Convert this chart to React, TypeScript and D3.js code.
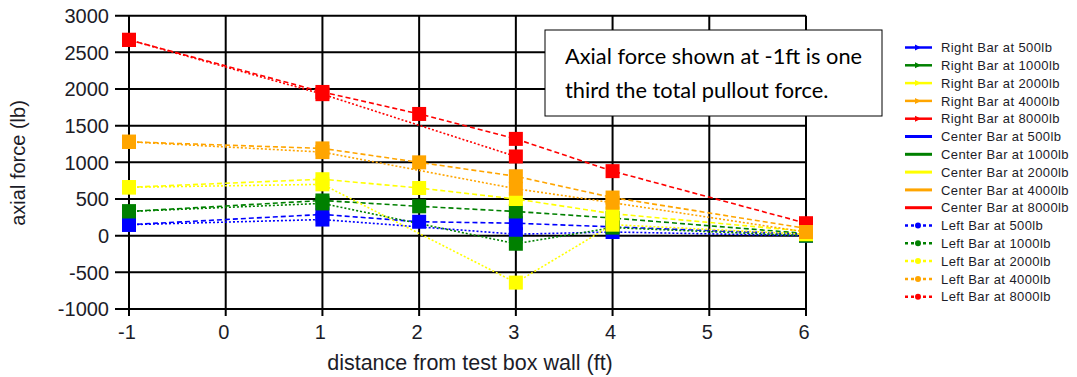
import React from "react";
import * as d3 from "d3";

const xTicks = [-1, 0, 1, 2, 3, 4, 5, 6];
const yTicks = [-1000, -500, 0, 500, 1000, 1500, 2000, 2500, 3000];
const loads = ["500lb", "1000lb", "2000lb", "4000lb", "8000lb"];
const colors = ["#0000ff", "#008000", "#ffff00", "#ffa500", "#ff0000"];

// Right Bar (dashed)
const rightX = [-1, 1, 2, 3, 4, 6];
const right500 = [150, 290, 190, 170, 120, 20];
const right1000 = [330, 480, 400, 330, 240, 30];
const right2000 = [660, 770, 650, 500, 300, 60];
const right4000 = [1280, 1190, 1000, 810, 520, 100];
const right8000 = [2670, 1960, 1660, 1320, 880, 170];

// Center Bar (solid)
const centerX = [-1];
const center500 = [150];
const center1000 = [330];
const center2000 = [660];
const center4000 = [1280];
const center8000 = [2670];

// Left Bar (dotted)
const leftX = [-1, 1, 3, 4, 6];
const leftX8000 = [-1, 1, 3];
const left500 = [150, 220, 20, 50, 0];
const left1000 = [330, 440, -110, 110, 0];
const left2000 = [660, 700, -640, 150, 20];
const left4000 = [1280, 1140, 640, 450, 50];
const left8000 = [2670, 1930, 1080];

const rightSeries = [right500, right1000, right2000, right4000, right8000];
const centerSeries = [center500, center1000, center2000, center4000, center8000];
const leftSeries = [left500, left1000, left2000, left4000, left8000];

type Style = "dash" | "solid" | "dot";

export default function App() {
  const W = 1077, H = 377;
  const x = d3.scaleLinear().domain([-1, 6]).range([129, 806]);
  const y = d3.scaleLinear().domain([-1000, 3000]).range([309, 15.7]);
  const line = d3.line<[number, number]>().x(d => x(d[0])).y(d => y(d[1]));

  type S = { name: string; color: string; style: Style; xs: number[]; ys: number[] };
  const series: S[] = [];
  loads.forEach((l, i) => series.push({ name: `Right Bar at ${l}`, color: colors[i], style: "dash", xs: rightX, ys: rightSeries[i] }));
  loads.forEach((l, i) => series.push({ name: `Center Bar at ${l}`, color: colors[i], style: "solid", xs: centerX, ys: centerSeries[i] }));
  loads.forEach((l, i) => series.push({ name: `Left Bar at ${l}`, color: colors[i], style: "dot", xs: i === 4 ? leftX8000 : leftX, ys: leftSeries[i] }));

  const dashOf = (s: Style) => (s === "dash" ? "5,3" : s === "dot" ? "2,2" : undefined);
  const ms = 14;
  const txt = "#1c1c28";

  return (
    <svg width={W} height={H} style={{ display: "block", position: "absolute", left: 0, top: 0 }} fontFamily="Liberation Sans, Arial, sans-serif">
      <rect width={W} height={H} fill="#fff" />
      {/* grid */}
      {yTicks.map(t => (
        <line key={"gy" + t} x1={115} x2={806} y1={y(t)} y2={y(t)} stroke="#000" strokeWidth={2} />
      ))}
      {xTicks.map(t => (
        <line key={"gx" + t} x1={x(t)} x2={x(t)} y1={y(3000)} y2={316} stroke="#000" strokeWidth={2} />
      ))}
      {yTicks.map(t => (
        <text key={"ty" + t} x={109} y={y(t)} dy="0.36em" textAnchor="end" fontSize={20} fill={txt}>{t}</text>
      ))}
      {xTicks.map(t => (
        <text key={"tx" + t} x={x(t) - 2} y={332} dy="0.36em" textAnchor="middle" fontSize={20} fill={txt}>{t}</text>
      ))}
      <text transform={`translate(18,163) rotate(-90)`} dy="0.36em" textAnchor="middle" fontSize={20} fill={txt}>axial force (lb)</text>
      <text x={470} y={362} dy="0.36em" textAnchor="middle" fontSize={21.5} fill={txt}>distance from test box wall (ft)</text>

      {/* lines */}
      {series.map((s, i) => (
        <path key={"l" + i} d={line(s.xs.map((v, j) => [v, s.ys[j]]) as [number, number][]) || ""} fill="none" stroke={s.color} strokeWidth={s.style === "solid" ? 2 : 1.6} strokeDasharray={dashOf(s.style)} />
      ))}
      {/* markers */}
      {series.map((s, i) => (
        <g key={"m" + i}>
          {s.xs.map((v, j) => (
            <rect key={j} x={x(v) - ms / 2} y={y(s.ys[j]) - ms / 2} width={ms} height={ms} fill={s.color} />
          ))}
        </g>
      ))}

      {/* annotation box */}
      <rect x={545} y={30} width={337} height={86} fill="#fff" stroke="#000" strokeWidth={1} />
      <text x={565} y={64} fontSize={21.8} fontFamily="Lato, sans-serif" fill="#000">Axial force shown at -1ft is one</text>
      <text x={565} y={98} fontSize={21.8} fontFamily="Lato, sans-serif" fill="#000">third the total pullout force.</text>

      {/* legend */}
      {series.map((s, i) => {
        const ly = 47.5 + i * 17.8;
        return (
          <g key={"lg" + i}>
            <line x1={905} x2={932} y1={ly} y2={ly} stroke={s.color} strokeWidth={s.style === "solid" ? 3 : 2.5} strokeDasharray={s.style === "dot" ? "3,3" : undefined} />
            {s.style === "dash" && <path d={`M${915},${ly - 3} L${921},${ly} L${915},${ly + 3} Z`} fill={s.color} />}
            {s.style === "dot" && <circle cx={918} cy={ly} r={3} fill={s.color} />}
            <text x={941} y={ly} dy="0.36em" fontSize={13} letterSpacing={0.4} fill={txt}>{s.name}</text>
          </g>
        );
      })}
    </svg>
  );
}
